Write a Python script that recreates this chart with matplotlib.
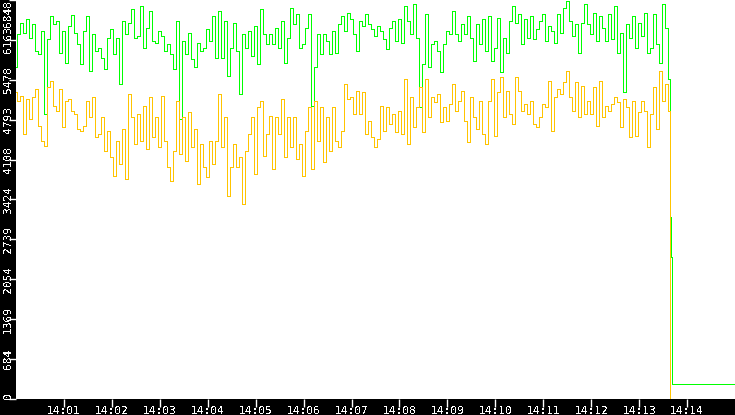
import matplotlib
matplotlib.use("Agg")
import matplotlib.pyplot as plt
from matplotlib.transforms import blended_transform_factory

# ---- data -------------------------------------------------------------
SAMPLE_STEP_S = 3.75          # seconds between samples, starting 14:00:00

green = [
    5690, 6260, 6460, 6289, 6517, 6203, 6431, 5975, 5918, 6317, 4891, 6175, 6574, 6431,
    6489, 5946, 6317, 5775, 6403, 6591, 6289, 6089, 5747, 6317, 6574, 5632, 6260, 5975,
    6032, 5861, 5661, 6203, 6346, 5918, 6203, 5404, 6489, 6260, 6460, 6688, 6203, 6232,
    6745, 6032, 6374, 6660, 6146, 6118, 6317, 6232, 5975, 6089, 5918, 5661, 6489, 4805,
    6146, 5918, 6289, 5832, 5690, 6118, 5975, 6032, 6346, 6146, 6574, 5861, 6660, 5861,
    6489, 5547, 6032, 6460, 5975, 5233, 6260, 6032, 6317, 5889, 6403, 5747, 6688, 6260,
    6089, 6260, 6089, 6374, 6032, 6489, 5775, 6203, 6717, 6431, 6603, 6032, 6089, 6374,
    6603, 5033, 5690, 6260, 5918, 6260, 6146, 5918, 6317, 5946, 6431, 6574, 6317, 6631,
    6517, 6260, 5975, 6489, 6403, 6603, 6431, 6346, 6232, 6403, 6317, 6175, 6003, 6374,
    6489, 6146, 6517, 6118, 6745, 6489, 6260, 6774, 6203, 5005, 5747, 6603, 5690, 6089,
    6146, 5975, 5604, 6089, 6317, 6260, 6660, 6260, 6146, 6431, 6260, 6574, 6203, 5804,
    6431, 6089, 6517, 5975, 6574, 5804, 6032, 6546, 5604, 6203, 5946, 6489, 6745, 6460,
    6603, 6089, 6517, 6203, 6574, 6175, 6346, 6489, 6603, 6146, 6403, 6317, 6118, 6603,
    6289, 6717, 6831, 6489, 6232, 6431, 5946, 6460, 6774, 6431, 6260, 6631, 6146, 6574,
    6374, 6146, 6603, 6175, 6745, 5946, 6289, 5262, 6431, 6203, 6574, 6032, 6460, 6232,
    6631, 5946, 6032, 6603, 6089, 5775, 6774, 6374, 5490,
]

yellow = [
    5262, 5119, 5205, 4548, 5147, 4805, 5176, 5319, 4691, 4434, 4349, 5347, 5461, 5033,
    4948, 5319, 4662, 5119, 5147, 4948, 4891, 4634, 4605, 4691, 5119, 4834, 5176, 4491,
    4548, 4834, 4263, 4605, 4149, 3835, 4434, 4035, 4634, 3778, 5233, 4834, 4377, 4891,
    4434, 5033, 4291, 5176, 4491, 4834, 4320, 5205, 4434, 3977, 3749, 4263, 5119, 4206,
    4834, 4092, 4919, 4320, 4634, 3692, 4377, 3977, 3806, 4434, 4035, 4434, 5233, 4320,
    4834, 3492, 3977, 4377, 3977, 4149, 3350, 4263, 4548, 4834, 3863, 5005, 5119, 4177,
    4548, 4862, 3949, 4834, 4548, 5147, 4149, 4834, 4320, 4834, 4120, 4377, 3835, 4605,
    5005, 3949, 5119, 4434, 5005, 4063, 4834, 4263, 5005, 4434, 4320, 4605, 5404, 5147,
    5176, 4891, 5290, 4891, 5262, 4548, 4776, 4491, 4320, 4463, 5033, 4605, 5005, 4719,
    4891, 4577, 4948, 4548, 5490, 4377, 5176, 4662, 5005, 5347, 4577, 5490, 4834, 5176,
    5090, 5233, 4748, 5005, 4776, 5062, 5404, 4948, 5119, 5290, 4776, 4406, 5176, 4834,
    4634, 5119, 4548, 4377, 5119, 5490, 4520, 5262, 5518, 4834, 5290, 4891, 4719, 5518,
    5290, 4948, 5062, 4891, 5119, 4719, 4662, 4834, 5062, 5005, 5461, 4605, 5176, 5319,
    5233, 5433, 5632, 5176, 4948, 5433, 4834, 5376, 4891, 5119, 4891, 5347, 4691, 5461,
    4834, 5033, 4948, 5062, 5176, 5090, 4662, 5147, 5005, 4491, 5119, 4520, 4919, 5119,
    4948, 4320, 4891, 5347, 4634, 5632, 5119, 5404, 4948,
]

# after the drop (seconds after 14:00:00)
green_tail_s = [820, 821, 822, 900]
green_tail = [3116, 2431, 257, 257]
yellow_tail_s = [819, 900]
yellow_tail = [0, 0]

y_ticks = [0, 684, 1369, 2054, 2739, 3424, 4108, 4793, 5478, 6163, 6848]
x_tick_labels = ["14:01", "14:02", "14:03", "14:04", "14:05", "14:06", "14:07",
                 "14:08", "14:09", "14:10", "14:11", "14:12", "14:13", "14:14"]

# ---- figure -----------------------------------------------------------
FONT = ['Liberation Sans Narrow', 'DejaVu Sans Mono']
plt.rcParams['font.family'] = FONT
plt.rcParams['text.antialiased'] = False

W, H = 735, 415
L, B = 16, 16
fig = plt.figure(figsize=(W / 100, H / 100), dpi=100, facecolor='black')
ax = fig.add_axes([L / W, B / H, (W - L) / W, (H - B) / H])
ax.set_facecolor('white')
for s in ax.spines.values():
    s.set_visible(False)

g_t = [i * SAMPLE_STEP_S for i in range(len(green))] + green_tail_s
g_v = green + green_tail
y_t = [i * SAMPLE_STEP_S for i in range(len(yellow))] + yellow_tail_s
y_v = yellow + yellow_tail

ax.plot(g_t, g_v, color='#00FF00', lw=0.5, drawstyle='steps-mid', antialiased=False)
ax.plot(y_t, y_v, color='#FFC400', lw=0.5, drawstyle='steps-mid', antialiased=False)

ax.set_xlim(0, 900)
ax.set_ylim(0, 6848)

xt = [60 * (i + 1) for i in range(len(x_tick_labels))]
ax.set_xticks(xt)
ax.tick_params(axis='x', colors='white', direction='out', length=6, width=1,
               labelbottom=False)
ax.set_yticks(y_ticks)
ax.tick_params(axis='y', colors='white', direction='out', length=5, width=1,
               labelleft=False)

trx = blended_transform_factory(ax.transData, fig.transFigure)
for t, lab in zip(xt, x_tick_labels):
    ax.text(t, 1.5 / H, lab, transform=trx, ha='center', va='baseline',
            color='white', fontsize=8, clip_on=False)

tr = blended_transform_factory(fig.transFigure, ax.transData)
for i, v in enumerate(y_ticks):
    va = 'center'
    if i == 0:
        va = 'bottom'
    elif i == len(y_ticks) - 1:
        va = 'top'
    ax.text(8 / W, v, str(v), transform=tr, rotation=90, ha='center', va=va,
            color='white', fontsize=8, clip_on=False)

fig.savefig('out.png', dpi=100, facecolor='black')
